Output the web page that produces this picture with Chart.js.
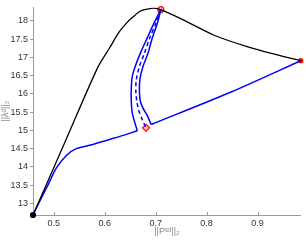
<!DOCTYPE html>
<html>
<head>
<meta charset="utf-8">
<script src="https://cdn.jsdelivr.net/npm/chart.js@4/dist/chart.umd.min.js"></script>
<style>
    html, body { margin: 0; padding: 0; background: #fff; }
    #grafica { display: block; }
</style>
</head>
<body>
<canvas id="grafica" width="306" height="240"></canvas>
<script>
const ticksX = [0.5, 0.6, 0.7, 0.8, 0.9];
const ticksY = [13, 13.5, 14, 14.5, 15, 15.5, 16, 16.5, 17, 17.5, 18];

// curva negra
const negraX = [0.459, 0.5225, 0.586, 0.609, 0.628, 0.644, 0.654, 0.670, 0.686, 0.696, 0.710, 0.751, 0.816, 0.881, 0.939, 0.985];
const negraY = [12.68, 14.70, 16.72, 17.25, 17.69, 17.96, 18.09, 18.27, 18.33, 18.35, 18.31, 18.05, 17.60, 17.29, 17.07, 16.91];

// curva azul: subida inicial
const subidaX = [0.459, 0.473, 0.489, 0.505, 0.525, 0.544, 0.570, 0.609, 0.638, 0.664];
const subidaY = [12.68, 13.08, 13.52, 13.97, 14.32, 14.50, 14.59, 14.75, 14.87, 14.99];

// arco izquierdo (sube hasta el circulo rojo)
const arcoIzqX = [0.664, 0.659, 0.654, 0.652, 0.652, 0.654, 0.661, 0.671, 0.683, 0.696, 0.710];
const arcoIzqY = [14.99, 15.21, 15.47, 15.79, 16.14, 16.48, 16.80, 17.15, 17.52, 17.92, 18.31];

// arco derecho (baja)
const arcoDerX = [0.710, 0.703, 0.693, 0.685, 0.675, 0.669, 0.668, 0.670, 0.675, 0.684, 0.691];
const arcoDerY = [18.31, 17.92, 17.52, 17.12, 16.75, 16.40, 16.06, 15.79, 15.61, 15.39, 15.16];

// tramo de regreso al punto de la derecha
const regresoX = [0.691, 0.848, 0.985];
const regresoY = [15.16, 16.05, 16.91];

// arco punteado hasta el rombo
const punteadoX = [0.710, 0.700, 0.688, 0.678, 0.668, 0.662, 0.661, 0.663, 0.667, 0.673, 0.680];
const punteadoY = [18.31, 17.92, 17.52, 17.12, 16.75, 16.40, 16.06, 15.79, 15.53, 15.31, 15.10];

// marcadores
const inicio = [0.459, 12.68];
const cima = [0.710, 18.31];
const extremo = [0.985, 16.91];
const rombo = [0.681, 15.07];

function puntos(xs, ys) {
    return xs.map((x, i) => ({ x: x, y: ys[i] }));
}

function linea(xs, ys, color, ancho, dash) {
    return {
        data: puntos(xs, ys),
        showLine: true,
        borderColor: color,
        borderWidth: ancho,
        borderDash: dash || [],
        pointRadius: 0,
        tension: 0.3,
        fill: false
    };
}

function marcador(p, estilo, radio, borde, relleno) {
    return {
        data: [{ x: p[0], y: p[1] }],
        pointStyle: estilo,
        pointRadius: radio,
        pointBorderColor: borde,
        pointBackgroundColor: relleno,
        pointBorderWidth: 1.2,
        showLine: false,
        clip: false
    };
}

// marcas cortas hacia dentro en el eje x
const marcasX = {
    id: "marcasX",
    afterDraw(chart) {
        const ctx = chart.ctx;
        const sx = chart.scales.x;
        const abajo = chart.chartArea.bottom;
        ctx.save();
        ctx.strokeStyle = "#999";
        ctx.lineWidth = 1;
        ticksX.forEach(v => {
            const px = Math.round(sx.getPixelForValue(v)) + 0.5;
            ctx.beginPath();
            ctx.moveTo(px, abajo);
            ctx.lineTo(px, abajo - 3);
            ctx.stroke();
        });
        ctx.restore();
    }
};

const fuente = { family: "Liberation Sans, Arial, sans-serif", size: 9 };

new Chart(document.getElementById("grafica"), {
    type: "scatter",
    data: {
        datasets: [
            linea(negraX, negraY, "#000", 1.3),
            linea(subidaX, subidaY, "#0000ff", 1.5),
            linea(arcoIzqX, arcoIzqY, "#0000ff", 1.5),
            linea(arcoDerX, arcoDerY, "#0000ff", 1.5),
            linea(regresoX, regresoY, "#0000ff", 1.5),
            linea(punteadoX, punteadoY, "#0000ff", 1.5, [4, 3]),
            marcador(inicio, "circle", 2.5, "#000", "#000"),
            marcador(cima, "circle", 3, "#ff0000", "rgba(255,120,120,0.5)"),
            marcador(extremo, "circle", 2, "#ff0000", "#ff0000"),
            marcador(rombo, "rectRot", 3.5, "#ff0000", "rgba(255,120,120,0.5)")
        ]
    },
    options: {
        responsive: false,
        animation: false,
        layout: { padding: { top: 1, right: 2, left: 0, bottom: 0 } },
        plugins: {
            legend: { display: false },
            tooltip: { enabled: false }
        },
        scales: {
            x: {
                type: "linear",
                min: 0.459,
                max: 0.985,
                afterBuildTicks: s => { s.ticks = ticksX.map(v => ({ value: v })); },
                afterFit: s => { s.height = 25; },
                grid: { display: true, drawOnChartArea: false, drawTicks: false },
                border: { color: "#999", width: 1 },
                ticks: {
                    padding: 3,
                    color: "#333",
                    font: fuente,
                    maxRotation: 0,
                    callback: v => String(v)
                },
                title: {
                    display: true,
                    text: "||Pˢᵈ||₂",
                    color: "#888",
                    font: fuente,
                    padding: { top: 0, bottom: 3 }
                }
            },
            y: {
                type: "linear",
                min: 12.68,
                max: 18.37,
                afterBuildTicks: s => { s.ticks = ticksY.map(v => ({ value: v })); },
                afterFit: s => { s.width = 33; },
                grid: { drawOnChartArea: false, drawTicks: true, tickLength: 3, color: "#999" },
                border: { color: "#999", width: 1 },
                ticks: {
                    padding: 2,
                    color: "#333",
                    font: fuente,
                    callback: v => String(v)
                },
                title: {
                    display: true,
                    text: "||λᵈ||₂",
                    color: "#888",
                    font: fuente,
                    padding: { top: 0, bottom: 2 }
                }
            }
        }
    },
    plugins: [marcasX]
});
</script>
</body>
</html>
